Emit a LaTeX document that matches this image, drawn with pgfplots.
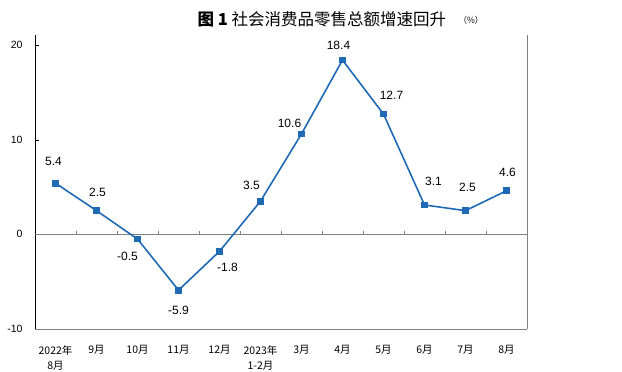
\documentclass[border=0pt]{standalone}
\usepackage{pgfplots}
\pgfplotsset{compat=1.18}
\usepackage{pgfplotstable}
\usepackage{fontspec}
\setmainfont{Liberation Sans}
\newfontfamily\cjk{Noto Sans CJK SC}
\definecolor{lineblue}{RGB}{30,106,180}
\definecolor{axgray}{RGB}{128,128,128}

\pgfplotstableread{
x y dx dy
0 5.4 -2 22
1 2.5 1 18
2 -0.5 -10 -17
3 -5.9 0 -20
4 -1.8 8 -16
5 3.5 -9 16
6 10.6 -12 11
7 18.4 -4 15
8 12.7 8 19
9 3.1 9 24
10 2.5 2 23
11 4.6 1 18
}\data

\begin{document}
\begin{tikzpicture}[x=1pt,y=1pt]
\useasboundingbox (0,0) rectangle (622,372);
\begin{axis}[
  at={(35pt,43pt)}, anchor=south west,
  scale only axis, width=492pt, height=294pt,
  xmin=-0.5, xmax=11.5, ymin=-10, ymax=21.05,
  axis x line*=bottom, axis y line*=left,
  x axis line style={draw=axgray,-}, y axis line style={draw=black,-},
  ytick={-10,0,10,20}, yticklabels={-10,0,10,20},
  ytick style={draw=black}, major tick length=4pt, tick align=inside,
  yticklabel style={font=\fontsize{10.5}{12}\selectfont, xshift=-9pt},
  xtick={0,...,11},
  xtick style={draw=none},
  xticklabels={{2022年\\8月},9月,10月,11月,12月,{2023年\\1-2月},3月,4月,5月,6月,7月,8月},
  xticklabel style={font=\cjk\fontsize{10.5}{15}\selectfont, align=center, yshift=-13pt},
  clip=false,
]
\draw[axgray] (axis cs:-0.5,0) -- (axis cs:11.5,0);
\pgfplotsinvokeforeach{0.5,1.5,2.5,3.5,4.5,5.5,6.5,7.5,8.5,9.5,10.5}{
  \draw[axgray] (axis cs:#1,0) -- ++(0pt,3pt);
}
\draw[axgray] (rel axis cs:1,0) -- (rel axis cs:1,1);
\addplot[color=lineblue, line width=1.6pt, mark=square*, mark size=2.6pt,
  mark options={fill=lineblue, draw=lineblue},
  visualization depends on={\thisrow{dx}\as\dx},
  visualization depends on={\thisrow{dy}\as\dy},
  nodes near coords={\pgfmathprintnumber[fixed,precision=1,zerofill,assume math mode=true]{\pgfplotspointmeta}},
  every node near coord/.style={anchor=center, xshift=\dx pt, yshift=\dy pt, text=black, font=\fontsize{12}{14}\selectfont},
] table[x=x,y=y] {\data};
\end{axis}
\node[anchor=west, font=\cjk\fontsize{16.5}{18}\selectfont] at (194,353) {\textbf{图 1} 社会消费品零售总额增速回升};
\node[anchor=west, font=\cjk\fontsize{8.5}{9}\selectfont] at (455,352) {（\%）};
\end{tikzpicture}
\end{document}
